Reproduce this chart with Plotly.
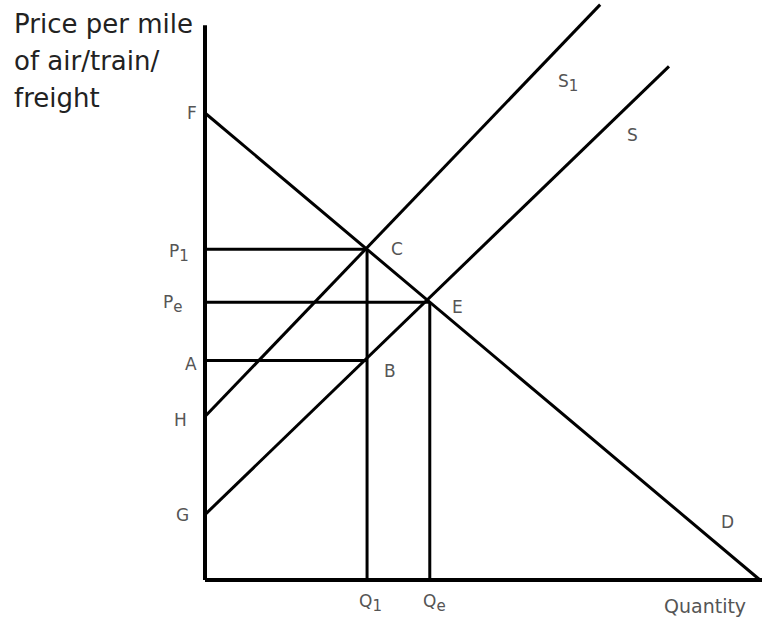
import plotly.graph_objects as go

# Market for air/train/freight travel: demand, original supply and shifted supply
demand_q = [0, 100]
demand_p = [100, 0]

supply_q = [0, 83.6]
supply_p = [14, 110]

supply1_q = [0, 71.2]
supply1_p = [35, 123.2]

# Key quantities and prices
q1 = 29.2      # quantity under S1
qe = 40.5      # equilibrium quantity
p1 = 70.8      # price at C
pe = 59.5      # equilibrium price
pa = 47.0      # supply price at Q1 (point B)

p_f = 100      # demand intercept
p_h = 35       # S1 intercept
p_g = 14       # S intercept

x_max = 100.4
y_top = 118.8

ink = "black"
lab = "#555555"
txt_font = "DejaVu Sans"

fig = go.Figure()


def seg(xs, ys, width=3):
    fig.add_trace(go.Scatter(x=xs, y=ys, mode="lines",
                             line=dict(color=ink, width=width),
                             hoverinfo="skip", showlegend=False))


# axes
seg([0, 0], [0, y_top], width=4)
seg([0, x_max], [0, 0], width=4)

# curves
seg(demand_q, demand_p)
seg(supply_q, supply_p)
seg(supply1_q, supply1_p)

# price guide lines
seg([0, q1], [p1, p1])
seg([0, qe], [pe, pe])
seg([0, q1], [pa, pa])

# quantity guide lines
seg([q1, q1], [0, p1])
seg([qe, qe], [0, pe])

ann = []


def sub(base, s):
    return f"{base}<sub><span style='font-size:15px'>{s}</span></sub>"


def label(text, x, y, xs=0, ys=0, xanchor="center", size=17, color=lab):
    ann.append(dict(text=text, x=x, y=y, xref="x", yref="y", showarrow=False,
                    xanchor=xanchor, yanchor="middle", xshift=xs, yshift=ys,
                    font=dict(family=txt_font, size=size, color=color)))


# price-axis letters
label("F", 0, p_f, xs=-6, xanchor="right")
label(sub("P", "1"), 0, p1, xs=-14, ys=-4, xanchor="right")
label(sub("P", "e"), 0, pe, xs=-20, ys=-2, xanchor="right")
label("A", 0, pa, xs=-6, ys=-3, xanchor="right")
label("H", 0, p_h, xs=-16, ys=-3, xanchor="right")
label("G", 0, p_g, xs=-14, ys=0, xanchor="right")

# intersection points
label("C", q1, p1, xs=30, ys=0)
label("E", qe, pe, xs=28, ys=-5)
label("B", q1, pa, xs=23, ys=-10)

# curve names
label(sub("S", "1"), 65.4, 106.5)
label("S", 77.1, 95.3)
label("D", 94.2, 12.4)

# quantity-axis letters
label(sub("Q", "1"), q1, 0, xs=3, ys=-23)
label(sub("Q", "e"), qe, 0, xs=5, ys=-23)
label("Quantity", 90.1, 0, ys=-26, size=19)

# price axis title, placed in the left margin
plot_h = 590
plot_w = 567
for i, line in enumerate(["Price per mile", "of air/train/", "freight"]):
    ann.append(dict(text=line, x=(12 - 195) / plot_w, y=(plot_h - 24 - 37 * i) / plot_h,
                    xref="paper", yref="paper", showarrow=False,
                    xanchor="left", yanchor="middle",
                    font=dict(family=txt_font, size=26, color="#222222")))

fig.update_layout(
    width=762, height=619,
    margin=dict(l=195, r=0, t=0, b=29),
    paper_bgcolor="white", plot_bgcolor="white",
    xaxis=dict(range=[-10 / 5.55, 557 / 5.55], visible=False),
    yaxis=dict(range=[-10 / 4.67, 580 / 4.67], visible=False),
    annotations=ann,
    showlegend=False,
)

fig.write_html("out.html")
